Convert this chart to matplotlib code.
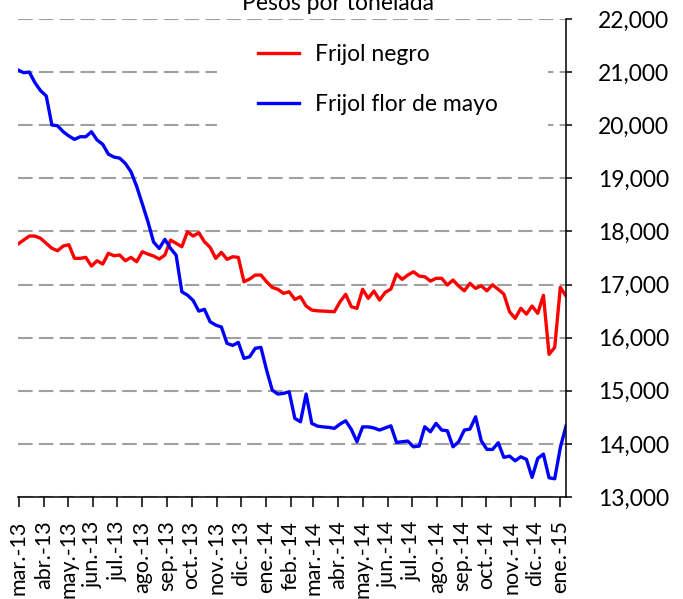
import matplotlib
matplotlib.use('Agg')
import matplotlib.pyplot as plt
from matplotlib.patches import Rectangle
from matplotlib.ticker import FuncFormatter
import pandas as pd

plt.rcParams['font.family'] = ['Lato', 'DejaVu Sans']

# precios semanales, pesos por tonelada
semanas = pd.date_range('2013-02-28', periods=98, freq='7D')

negro = [17763, 17838, 17913, 17913, 17870, 17776, 17682, 17637, 17725, 17750,
         17493, 17493, 17512, 17348, 17448, 17386, 17588, 17542, 17556, 17448,
         17512, 17430, 17618, 17574, 17537, 17480, 17556, 17838, 17776, 17712,
         17994, 17913, 17976, 17806, 17701, 17493, 17606, 17475, 17524, 17512,
         17053, 17104, 17179, 17179, 17053, 16947, 16910, 16834, 16864, 16721,
         16770, 16595, 16520, 16505, 16500, 16495, 16488, 16676, 16815, 16582,
         16552, 16910, 16740, 16878, 16708, 16853, 16915,
         17198, 17098, 17179, 17241, 17160, 17147, 17066, 17117, 17117, 16991,
         17085, 16972, 16883, 17023, 16928, 16977, 16883, 16996, 16910, 16821,
         16488, 16363, 16552, 16444, 16595, 16458, 16797, 15686, 15817, 16947,
         16783]

flor_mayo = [21040, 20989, 21000, 20800, 20650, 20550, 20004, 19990, 19878, 19797,
             19734, 19783, 19783, 19878, 19721, 19640, 19455, 19400, 19380, 19280,
             19124, 18850, 18520, 18183, 17800, 17680, 17851, 17682, 17550, 16864,
             16800, 16700, 16500, 16533, 16300, 16237, 16200, 15892, 15854, 15911,
             15610, 15640, 15800, 15817, 15390, 15013, 14938, 14951, 14981, 14480,
             14416, 14938, 14386, 14335, 14320, 14311, 14292, 14373, 14435, 14273,
             14040, 14320, 14320, 14300, 14260, 14300, 14340,
             14028, 14040, 14053, 13945, 13959, 14322, 14228, 14386, 14260, 14247,
             13945, 14040, 14260, 14279, 14510, 14059, 13896, 13896, 14021, 13746,
             13770, 13682, 13757, 13708, 13369, 13727, 13808, 13362, 13343, 13934,
             14335]

meses = pd.date_range('2013-03-01', '2015-01-01', freq='MS')
etiquetas = ['mar.-13', 'abr.-13', 'may.-13', 'jun.-13', 'jul.-13', 'ago.-13',
             'sep.-13', 'oct.-13', 'nov.-13', 'dic.-13', 'ene.-14', 'feb.-14',
             'mar.-14', 'abr.-14', 'may.-14', 'jun.-14', 'jul.-14', 'ago.-14',
             'sep.-14', 'oct.-14', 'nov.-14', 'dic.-14', 'ene.-15']

fs = 16.5
fig = plt.figure(figsize=(6.83, 5.99), dpi=100)
ax = fig.add_axes([18/683, 102/599, 548/683, 478/599])

ax.plot(semanas, negro, color='#FF0000', lw=2.4, label='Frijol negro', zorder=3)
ax.plot(semanas, flor_mayo, color='#0000FF', lw=2.4, label='Frijol flor de mayo', zorder=3)

ax.set_xlim(semanas[0], semanas[-1])
ax.set_ylim(13000, 22000)
ax.set_yticks(range(13000, 22001, 1000))
ax.yaxis.set_major_formatter(FuncFormatter(lambda v, p: f'{v:,.0f}'))
ax.yaxis.tick_right()
ax.grid(axis='y', color='#A0A0A0', lw=1.5, linestyle=(0, (7, 3)))
ax.set_axisbelow(True)

for s in ['left', 'top']:
    ax.spines[s].set_visible(False)
for s in ['right', 'bottom']:
    ax.spines[s].set_linewidth(1.1)
    ax.spines[s].set_zorder(4)

ax.tick_params(axis='y', direction='out', length=4.5, width=1.1, pad=18.5,
               labelsize=fs, right=True, left=False)
ax.set_xticks(meses)
ax.set_xticklabels(etiquetas, rotation=90, fontsize=15.5)
ax.tick_params(axis='x', direction='out', length=7, width=1.1, pad=10)

# fondo blanco de la leyenda
ax.add_patch(Rectangle((0.363, 0.747), 0.604, 0.23, transform=ax.transAxes,
                       facecolor='white', edgecolor='none', zorder=1))
ax.legend(loc='upper left', bbox_to_anchor=(258/683, 1 - 44/599),
          bbox_transform=fig.transFigure, frameon=False, fontsize=fs,
          handlelength=1.8, handletextpad=0.7, labelspacing=1.25,
          borderpad=0, borderaxespad=0)

fig.text(338/683, 1 - 9.6/599, 'Pesos por tonelada', ha='center', va='baseline',
         fontsize=fs)

fig.savefig('out.png', dpi=100)
